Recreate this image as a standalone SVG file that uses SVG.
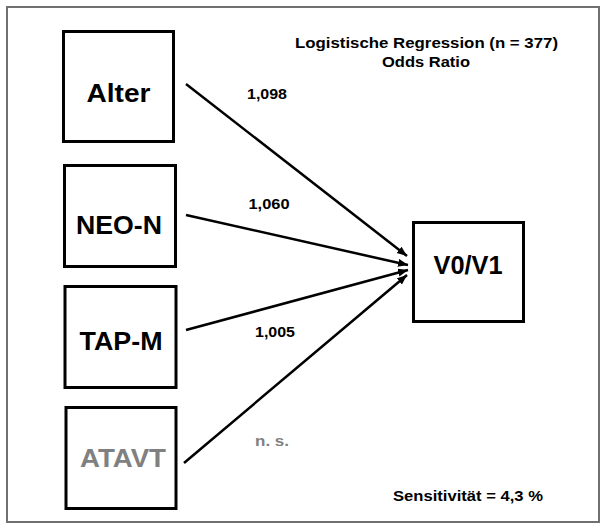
<svg xmlns="http://www.w3.org/2000/svg" width="605" height="526" viewBox="0 0 605 526">
<defs>
<style>
.box{fill:#fff;stroke:#000;stroke-width:3}
.lbl{font-family:"Liberation Sans",Arial,sans-serif;font-weight:bold;font-size:26px;text-anchor:middle;fill:#000}
.t{font-family:"Liberation Sans",Arial,sans-serif;font-weight:bold;font-size:15px;text-anchor:middle;fill:#000}
.grey{fill:#808080}
.con{stroke:#000;stroke-width:2.5;fill:none;marker-end:url(#ah)}
</style>
<marker id="ah" markerUnits="userSpaceOnUse" markerWidth="12" markerHeight="10" refX="10" refY="4" orient="auto">
<path d="M0,0 L10,4 L0,8 Z" fill="#000"/>
</marker>
</defs>
<rect x="0" y="0" width="605" height="526" fill="#fff"/>
<rect x="7" y="7" width="592" height="515" fill="none" stroke="#707070" stroke-width="2"/>
<g id="connectors">
<line class="con" x1="186" y1="84" x2="407" y2="256"/>
<line class="con" x1="186" y1="215" x2="408" y2="265"/>
<line class="con" x1="186" y1="330" x2="408" y2="270"/>
<line class="con" x1="184" y1="463" x2="407" y2="275"/>
</g>
<g id="alter">
<rect class="box" x="63.5" y="31.5" width="110" height="110"/>
<text class="lbl" x="118.5" y="102" textLength="64" lengthAdjust="spacingAndGlyphs">Alter</text>
</g>
<g id="neo-n">
<rect class="box" x="64.5" y="165.5" width="111" height="101"/>
<text class="lbl" x="119" y="234" textLength="86" lengthAdjust="spacingAndGlyphs">NEO-N</text>
</g>
<g id="tap-m">
<rect class="box" x="65" y="286.5" width="111" height="101"/>
<text class="lbl" x="121" y="350" textLength="83" lengthAdjust="spacingAndGlyphs">TAP-M</text>
</g>
<g id="atavt">
<rect class="box" x="66" y="407.5" width="110" height="101"/>
<text class="lbl grey" x="123" y="467" textLength="86" lengthAdjust="spacingAndGlyphs">ATAVT</text>
</g>
<g id="v0v1">
<rect class="box" x="413.5" y="222.5" width="110" height="99"/>
<text class="lbl" x="468" y="274" textLength="69" lengthAdjust="spacingAndGlyphs">V0/V1</text>
</g>
<g id="labels">
<text class="t" x="426.5" y="48" textLength="263" lengthAdjust="spacingAndGlyphs">Logistische Regression (n = 377)</text>
<text class="t" x="426" y="67" textLength="88" lengthAdjust="spacingAndGlyphs">Odds Ratio</text>
<text class="t" x="267" y="98.5" textLength="40" lengthAdjust="spacingAndGlyphs">1,098</text>
<text class="t" x="269" y="208.5" textLength="41" lengthAdjust="spacingAndGlyphs">1,060</text>
<text class="t" x="275" y="336.5" textLength="40" lengthAdjust="spacingAndGlyphs">1,005</text>
<text class="t grey" x="272" y="446" textLength="34" lengthAdjust="spacingAndGlyphs">n. s.</text>
<text class="t" x="468" y="501" textLength="150" lengthAdjust="spacingAndGlyphs">Sensitivität = 4,3 %</text>
</g>
</svg>
